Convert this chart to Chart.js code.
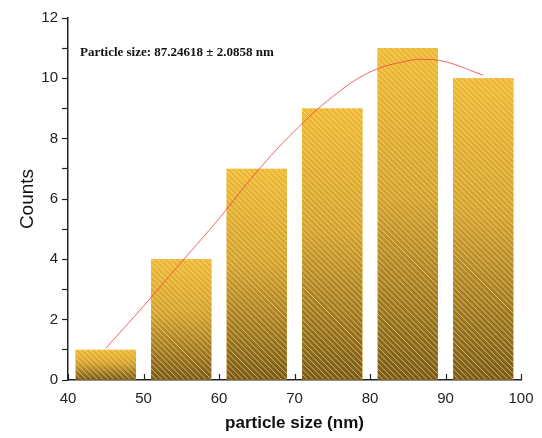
<!DOCTYPE html>
<html>
<head>
<meta charset="utf-8">
<script src="https://cdn.jsdelivr.net/npm/chart.js@4.4.1/dist/chart.umd.min.js"></script>
<style>
    html, body { margin: 0; padding: 0; background: #fff; }
    #chartHist { display: block; }
</style>
</head>
<body>
<canvas id="chartHist" width="542" height="438"></canvas>
<script>
// histogram bins (centre of each bin, nm) and counts
var binCenters = [45, 55, 65, 75, 85, 95];
var counts = [1, 4, 7, 9, 11, 10];

// fitted curve
var fitX = [45, 50, 55, 60, 65, 70, 75, 80, 85, 87, 90, 95];
var fitY = [1.05, 2.45, 3.9, 5.35, 6.9, 8.25, 9.38, 10.21, 10.58, 10.63, 10.55, 10.1];

var xTicks = [40, 50, 60, 70, 80, 90, 100];
var annotation = 'Particle size: 87.24618 \u00b1 2.0858 nm';

var hatchBars = {
    id: 'hatchBars',
    afterDatasetDraw: function (chart, args) {
        if (args.index !== 0) return;
        var ctx = chart.ctx;
        args.meta.data.forEach(function (bar) {
            var left = bar.x - bar.width / 2;
            var top = bar.y;
            var w = bar.width;
            var h = bar.base - bar.y;
            ctx.save();
            ctx.beginPath();
            ctx.rect(left, top, w, h);
            ctx.clip();
            var g = ctx.createLinearGradient(0, top, 0, bar.base);
            g.addColorStop(0, '#efb934');
            g.addColorStop(0.45, '#d3a22e');
            g.addColorStop(1, '#7a5a16');
            ctx.fillStyle = g;
            ctx.fillRect(left, top, w, h);
            ctx.strokeStyle = 'rgba(255, 238, 180, 0.6)';
            ctx.lineWidth = 1;
            ctx.beginPath();
            for (var s = -h; s < w + h; s += 5.5) {
                ctx.moveTo(left + s, top);
                ctx.lineTo(left + s + h, top + h);
            }
            ctx.stroke();
            ctx.restore();
        });
    },
    afterDraw: function (chart) {
        var ctx = chart.ctx;
        var xs = chart.scales.x;
        var ys = chart.scales.y;
        ctx.save();
        ctx.strokeStyle = '#222';
        ctx.lineWidth = 1.2;
        ctx.beginPath();
        xTicks.forEach(function (v) {
            var px = Math.round(xs.getPixelForValue(v)) + 0.5;
            ctx.moveTo(px, ys.bottom);
            ctx.lineTo(px, ys.bottom - 6);
        });
        ctx.stroke();
        ctx.fillStyle = '#111';
        ctx.font = 'bold 13px "Liberation Serif", "Times New Roman", serif';
        ctx.textBaseline = 'middle';
        ctx.fillText(annotation, xs.left + 12, ys.getPixelForValue(10.85));
        ctx.restore();
    }
};

new Chart(document.getElementById('chartHist'), {
    type: 'bar',
    data: {
        datasets: [
            {
                type: 'bar',
                label: 'Counts',
                data: binCenters.map(function (x, i) { return { x: x, y: counts[i] }; }),
                backgroundColor: '#e0ac30',
                barPercentage: 0.8,
                categoryPercentage: 1,
                order: 1
            },
            {
                type: 'line',
                label: 'Fit',
                data: fitX.map(function (x, i) { return { x: x, y: fitY[i] }; }),
                borderColor: 'rgba(240, 70, 70, 0.85)',
                borderWidth: 1,
                pointRadius: 0,
                tension: 0.4,
                fill: false,
                order: 0
            }
        ]
    },
    options: {
        responsive: false,
        animation: false,
        layout: { padding: { top: 18, right: 21, left: 0, bottom: 0 } },
        plugins: { legend: { display: false }, tooltip: { enabled: false } },
        scales: {
            x: {
                type: 'linear',
                min: 40,
                max: 100,
                offset: false,
                ticks: {
                    stepSize: 10,
                    padding: 2,
                    color: '#222',
                    font: { family: '"Liberation Sans", Arial, sans-serif', size: 15 }
                },
                grid: { display: false },
                border: { display: true, color: '#222', width: 1.5 },
                title: {
                    display: true,
                    text: 'particle size (nm)',
                    color: '#111',
                    padding: { top: 10 },
                    font: { family: '"Liberation Sans", Arial, sans-serif', size: 17, weight: 'bold' }
                },
                afterFit: function (scale) { scale.height = 58; }
            },
            y: {
                min: 0,
                max: 12,
                ticks: {
                    stepSize: 1,
                    autoSkip: false,
                    padding: 4,
                    color: '#222',
                    font: { family: '"Liberation Sans", Arial, sans-serif', size: 15 },
                    callback: function (v) { return v % 2 === 0 ? v : ''; }
                },
                grid: { drawOnChartArea: false, drawTicks: true, tickLength: 6, tickColor: '#222', tickWidth: 1.2 },
                border: { display: true, color: '#222', width: 1.5 },
                title: {
                    display: true,
                    text: 'Counts',
                    color: '#111',
                    padding: { top: 16, bottom: 0 },
                    font: { family: '"Liberation Sans", Arial, sans-serif', size: 19 }
                },
                afterFit: function (scale) { scale.width = 68; }
            }
        }
    },
    plugins: [hatchBars]
});
</script>
</body>
</html>
